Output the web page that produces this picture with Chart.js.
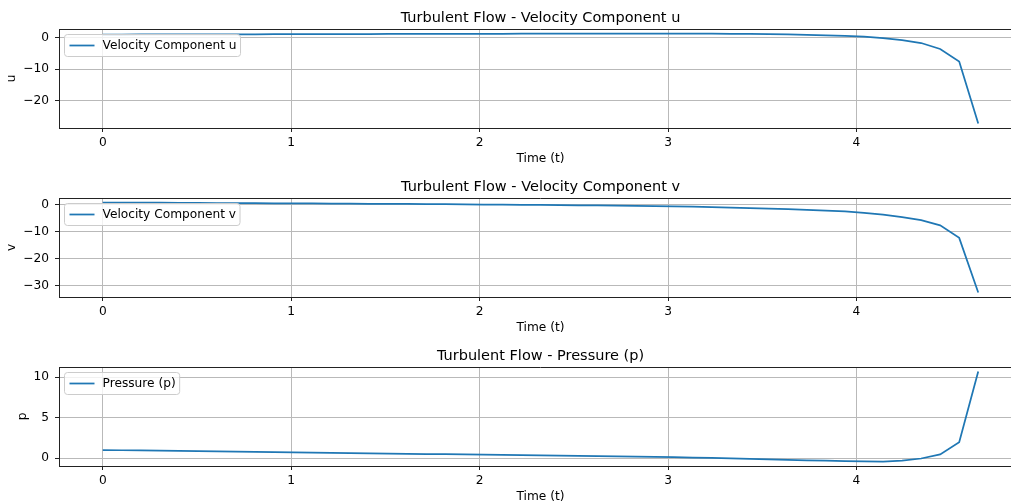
<!DOCTYPE html>
<html lang="en">
<head>
<meta charset="UTF-8">
<title>Turbulent Flow</title>
<script src="https://cdn.jsdelivr.net/npm/chart.js"></script>
<style>
  html, body { margin: 0; padding: 0; background: #fff; overflow: hidden; width: 1011px; height: 504px; }
  .panel { position: absolute; left: 0; width: 1030px; height: 168px; }
</style>
</head>
<body>
<div class="panel" style="top:0px"><canvas id="chartU" width="1030" height="168"></canvas></div>
<div class="panel" style="top:169px"><canvas id="chartV" width="1030" height="168"></canvas></div>
<div class="panel" style="top:338px"><canvas id="chartP" width="1030" height="168"></canvas></div>
<script>
const time = [0, 0.101, 0.202, 0.303, 0.404, 0.505, 0.606, 0.707, 0.808, 0.909,
  1.010, 1.111, 1.212, 1.313, 1.414, 1.515, 1.616, 1.717, 1.818, 1.919,
  2.020, 2.121, 2.222, 2.323, 2.424, 2.525, 2.626, 2.727, 2.828, 2.929,
  3.030, 3.131, 3.232, 3.333, 3.434, 3.535, 3.636, 3.737, 3.838, 3.939,
  4.040, 4.141, 4.242, 4.343, 4.444, 4.545, 4.646];

const uValues = [1.00, 1.01, 1.02, 1.04, 1.05, 1.06, 1.07, 1.08, 1.09, 1.11,
  1.12, 1.13, 1.14, 1.15, 1.17, 1.18, 1.19, 1.20, 1.21, 1.23,
  1.24, 1.25, 1.26, 1.27, 1.28, 1.29, 1.30, 1.31, 1.32, 1.33,
  1.32, 1.31, 1.28, 1.24, 1.18, 1.11, 1.02, 0.91, 0.77, 0.58,
  0.30, -0.15, -0.80, -1.70, -3.60, -7.60, -27.30];

const vValues = [0.70, 0.67, 0.64, 0.61, 0.58, 0.55, 0.51, 0.48, 0.45, 0.41,
  0.38, 0.34, 0.31, 0.27, 0.23, 0.19, 0.15, 0.10, 0.06, 0.01,
  -0.04, -0.09, -0.14, -0.20, -0.26, -0.32, -0.39, -0.46, -0.54, -0.62,
  -0.71, -0.84, -0.98, -1.15, -1.35, -1.55, -1.78, -2.03, -2.30, -2.60,
  -3.10, -3.80, -4.70, -5.80, -7.70, -12.30, -32.40];

const pValues = [1.00, 0.97, 0.94, 0.91, 0.88, 0.85, 0.82, 0.79, 0.76, 0.73,
  0.70, 0.67, 0.64, 0.61, 0.59, 0.56, 0.53, 0.50, 0.48, 0.45,
  0.42, 0.39, 0.36, 0.33, 0.30, 0.27, 0.24, 0.21, 0.18, 0.15,
  0.12, 0.07, 0.02, -0.03, -0.09, -0.15, -0.21, -0.27, -0.32, -0.36,
  -0.41, -0.42, -0.32, -0.05, 0.45, 1.97, 10.70];

const xTicks = [0, 1, 2, 3, 4];
const uTicks = [-20, -10, 0];
const vTicks = [-30, -20, -10, 0];
const pTicks = [0, 5, 10];

const FONT = "'DejaVu Sans', sans-serif";
const SMALL = 12.2;
const LARGE = 14.5;
Chart.defaults.font.family = FONT;
Chart.defaults.font.size = SMALL;
Chart.defaults.color = '#000';

function padRange(arr) {
  const lo = Math.min(...arr), hi = Math.max(...arr), m = (hi - lo) * 0.05;
  return [lo - m, hi + m];
}

function tickText(v) {
  return v < 0 ? '\u2212' + Math.abs(v) : String(v);
}

// titles, legend box, top spine and y label drawn like matplotlib
const mplDecor = {
  id: 'mplDecor',
  afterDatasetsDraw(chart, args, o) {
    const { ctx, chartArea: a } = chart;
    ctx.save();
    ctx.strokeStyle = '#222';
    ctx.lineWidth = 1;
    ctx.beginPath();
    ctx.moveTo(a.left, Math.round(a.top) + 0.5);
    ctx.lineTo(a.right, Math.round(a.top) + 0.5);
    ctx.stroke();

    // legend
    ctx.font = SMALL + 'px ' + FONT;
    const tw = ctx.measureText(o.legend).width;
    const bx = a.left + 5.5, by = a.top + 5.5, bw = tw + 42, bh = 22, r = 3;
    ctx.beginPath();
    ctx.moveTo(bx + r, by);
    ctx.arcTo(bx + bw, by, bx + bw, by + bh, r);
    ctx.arcTo(bx + bw, by + bh, bx, by + bh, r);
    ctx.arcTo(bx, by + bh, bx, by, r);
    ctx.arcTo(bx, by, bx + bw, by, r);
    ctx.closePath();
    ctx.fillStyle = 'rgba(255,255,255,0.8)';
    ctx.fill();
    ctx.strokeStyle = '#cccccc';
    ctx.lineWidth = 1;
    ctx.stroke();
    ctx.strokeStyle = '#1f77b4';
    ctx.lineWidth = 1.75;
    ctx.beginPath();
    ctx.moveTo(bx + 5, by + bh / 2);
    ctx.lineTo(bx + 30, by + bh / 2);
    ctx.stroke();
    ctx.fillStyle = '#000';
    ctx.textAlign = 'left';
    ctx.textBaseline = 'middle';
    ctx.fillText(o.legend, bx + 38, by + bh / 2);

    // y label, placed left of the widest tick label
    let maxW = 0;
    o.yTicks.forEach(v => { maxW = Math.max(maxW, ctx.measureText(tickText(v)).width); });
    const lx = a.left - 10 - maxW - 11;
    ctx.save();
    ctx.translate(lx, (a.top + a.bottom) / 2);
    ctx.rotate(-Math.PI / 2);
    ctx.textAlign = 'center';
    ctx.textBaseline = 'middle';
    ctx.fillText(o.ylabel, 0, 0);
    ctx.restore();

    // title
    ctx.font = LARGE + 'px ' + FONT;
    ctx.textAlign = 'center';
    ctx.textBaseline = 'alphabetic';
    ctx.fillText(o.title, (a.left + a.right) / 2, a.top - 7);
    ctx.restore();
  }
};

function makeChart(id, values, yTicks, title, legend, ylabel) {
  const xr = padRange(time);
  const yr = padRange(values);
  const gridOpts = { color: '#b9b9b9', lineWidth: 1, tickLength: 4, tickColor: '#222' };
  return new Chart(document.getElementById(id), {
    type: 'line',
    data: {
      datasets: [{
        label: legend,
        data: time.map((t, i) => ({ x: t, y: values[i] })),
        borderColor: '#1f77b4',
        borderWidth: 1.75,
        pointRadius: 0,
        fill: false,
        tension: 0
      }]
    },
    options: {
      responsive: false,
      animation: false,
      devicePixelRatio: 1,
      layout: { padding: { top: 29, right: 8, bottom: 0, left: 0 } },
      plugins: {
        legend: { display: false },
        tooltip: { enabled: false },
        mplDecor: { title: title, legend: legend, ylabel: ylabel, yTicks: yTicks }
      },
      scales: {
        x: {
          type: 'linear',
          min: xr[0],
          max: xr[1],
          afterBuildTicks: s => { s.ticks = xTicks.map(v => ({ value: v })); },
          afterFit: s => { s.height = 40; },
          ticks: { padding: 3.5, maxRotation: 0, autoSkip: false, callback: v => tickText(v) },
          grid: gridOpts,
          border: { color: '#222', width: 1 },
          title: { display: true, text: 'Time (t)', padding: { top: 0, bottom: 1.5 } }
        },
        y: {
          min: yr[0],
          max: yr[1],
          afterBuildTicks: s => { s.ticks = yTicks.map(v => ({ value: v })); },
          afterFit: s => { s.width = 59; },
          ticks: { padding: 6, callback: v => tickText(v) },
          grid: gridOpts,
          border: { color: '#222', width: 1 }
        }
      }
    },
    plugins: [mplDecor]
  });
}

makeChart('chartU', uValues, uTicks, 'Turbulent Flow - Velocity Component u', 'Velocity Component u', 'u');
makeChart('chartV', vValues, vTicks, 'Turbulent Flow - Velocity Component v', 'Velocity Component v', 'v');
makeChart('chartP', pValues, pTicks, 'Turbulent Flow - Pressure (p)', 'Pressure (p)', 'p');
</script>
</body>
</html>
